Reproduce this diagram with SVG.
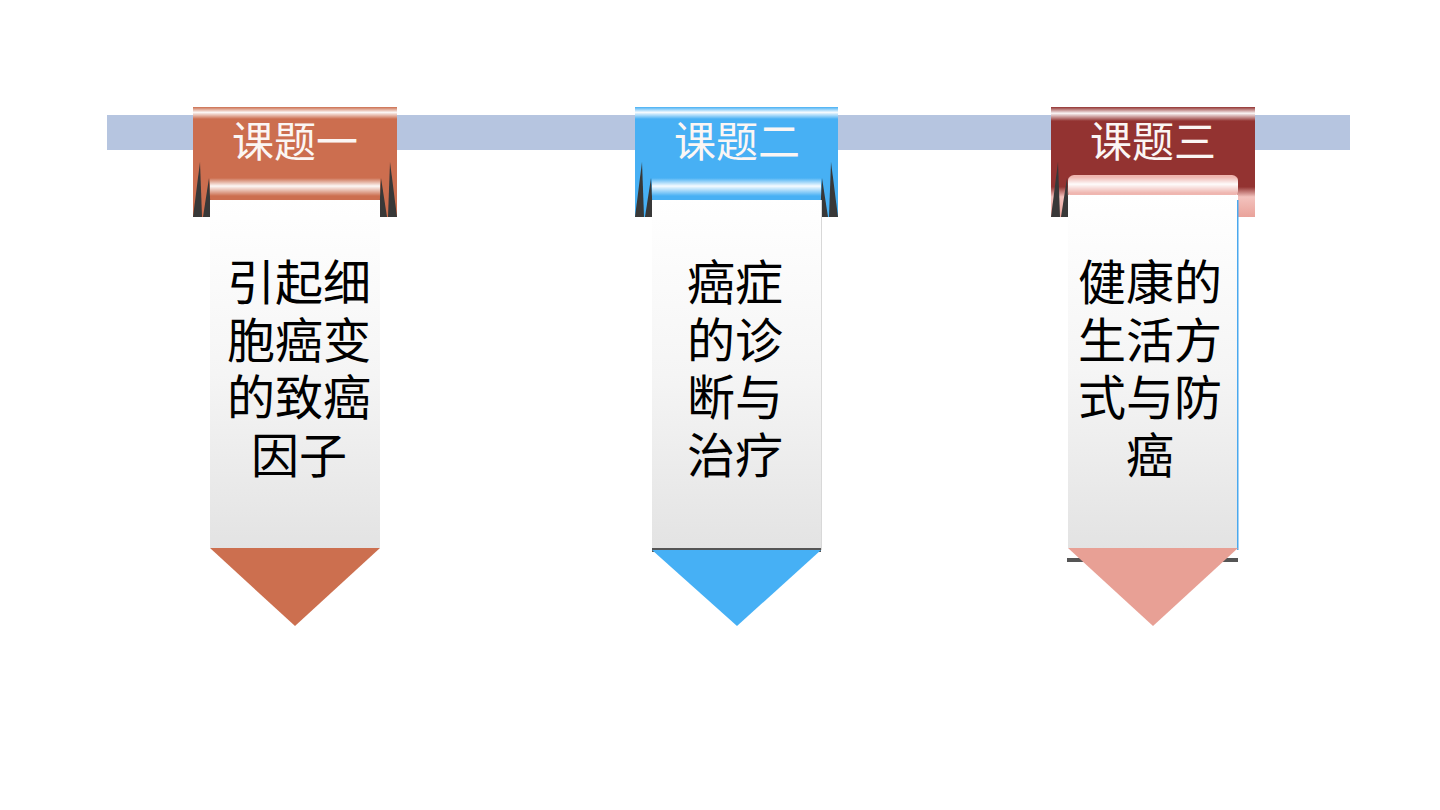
<svg xmlns="http://www.w3.org/2000/svg" width="1440" height="810" viewBox="0 0 1440 810">
<defs>
<style>
.title{font-family:"Liberation Sans","Noto Sans CJK SC",sans-serif;font-size:42px;fill:#fbf6f4;text-anchor:middle}
.body{font-family:"Liberation Sans","Noto Sans CJK SC",sans-serif;font-size:48px;fill:#000000;text-anchor:middle}
.spike{fill:#383838}
</style>
<linearGradient id="card" x1="0" y1="0" x2="0" y2="1">
<stop offset="0" stop-color="#ffffff"/>
<stop offset="0.5" stop-color="#f5f5f5"/>
<stop offset="1" stop-color="#e3e3e3"/>
</linearGradient>
<linearGradient id="hl" x1="0" y1="0" x2="0" y2="1">
<stop offset="0" stop-color="#ffffff" stop-opacity="0"/>
<stop offset="0.45" stop-color="#ffffff" stop-opacity="0.95"/>
<stop offset="1" stop-color="#ffffff" stop-opacity="0"/>
</linearGradient>
<linearGradient id="pinkcol" x1="0" y1="0" x2="0" y2="1">
<stop offset="0" stop-color="#933331"/>
<stop offset="0.55" stop-color="#933331"/>
<stop offset="0.7" stop-color="#f3c3be"/>
<stop offset="1" stop-color="#e9a29a"/>
</linearGradient>
<g id="spikesL">
<polygon points="193,217 200,162 202,217"/>
<polygon points="203,217 209,178 211,217"/>
</g>
</defs>
<rect width="1440" height="810" fill="#ffffff"/>
<rect x="107" y="115" width="1243" height="35" fill="#b6c5e0"/>

<g id="node1">
<rect x="193" y="107" width="204" height="93" fill="#cc6e4f"/>
<rect x="193" y="190" width="18" height="27" fill="#cc6e4f"/>
<rect x="379" y="190" width="18" height="27" fill="#cc6e4f"/>
<use href="#spikesL" class="spike"/>
<use href="#spikesL" class="spike" transform="translate(590,0) scale(-1,1)"/>
<rect x="193" y="107" width="204" height="12" fill="url(#hl)"/>
<rect x="210" y="176" width="170" height="24" rx="4" fill="#cc6e4f"/>
<rect x="210" y="178" width="170" height="18" fill="url(#hl)"/>
<rect x="210" y="200" width="170" height="348" fill="url(#card)"/>
<polygon points="210,548 380,548 295,626" fill="#cc6f4f"/>
<text class="title" x="295" y="157">课题一</text>
<text class="body" x="299" y="300">引起细</text>
<text class="body" x="299" y="357.5">胞癌变</text>
<text class="body" x="299" y="415">的致癌</text>
<text class="body" x="299" y="472.5">因子</text>
</g>

<g id="node2">
<rect x="635" y="107" width="203" height="93" fill="#47b0f4"/>
<rect x="635" y="190" width="18" height="27" fill="#47b0f4"/>
<rect x="820" y="190" width="18" height="27" fill="#47b0f4"/>
<use href="#spikesL" class="spike" transform="translate(442,0)"/>
<use href="#spikesL" class="spike" transform="translate(1031,0) scale(-1,1)"/>
<rect x="635" y="107" width="203" height="12" fill="url(#hl)"/>
<rect x="652" y="176" width="169" height="24" rx="4" fill="#47b0f4"/>
<rect x="652" y="178" width="169" height="18" fill="url(#hl)"/>
<rect x="652" y="200" width="169" height="350" fill="url(#card)"/>
<rect x="821" y="200" width="1" height="350" fill="#d8d8d8"/>
<rect x="652" y="548" width="169" height="4" fill="#555555"/>
<polygon points="652,550 821,550 737,626" fill="#46b0f5"/>
<text class="title" x="737" y="157">课题二</text>
<text class="body" x="735" y="300">癌症</text>
<text class="body" x="735" y="357.5">的诊</text>
<text class="body" x="735" y="415">断与</text>
<text class="body" x="735" y="472.5">治疗</text>
</g>

<g id="node3">
<rect x="1051" y="107" width="204" height="72" fill="#933331"/>
<rect x="1051" y="150" width="18" height="67" fill="url(#pinkcol)"/>
<rect x="1237" y="150" width="18" height="67" fill="url(#pinkcol)"/>
<use href="#spikesL" class="spike" transform="translate(858,0)"/>
<use href="#spikesL" class="spike" transform="translate(2448,0) scale(-1,1)"/>
<rect x="1051" y="107" width="204" height="14" fill="url(#hl)"/>
<rect x="1068" y="175" width="170" height="22" rx="6" fill="#efb6b0"/>
<rect x="1068" y="177" width="170" height="16" fill="url(#hl)"/>
<rect x="1068" y="195" width="170" height="353" fill="url(#card)"/>
<rect x="1237" y="200" width="1.5" height="350" fill="#4aa8ee"/>
<rect x="1067" y="558" width="171" height="4" fill="#555555"/>
<polygon points="1068,548 1238,548 1153,626" fill="#e8a095"/>
<text class="title" x="1153" y="157">课题三</text>
<text class="body" x="1150" y="300">健康的</text>
<text class="body" x="1150" y="357.5">生活方</text>
<text class="body" x="1150" y="415">式与防</text>
<text class="body" x="1150" y="472.5">癌</text>
</g>
<g id="connectors"/>
</svg>
